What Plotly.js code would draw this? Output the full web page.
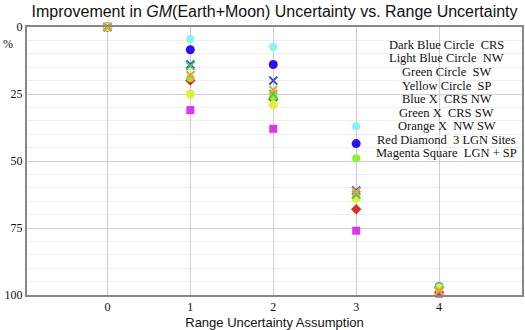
<!DOCTYPE html>
<html>
<head>
<meta charset="utf-8">
<script src="https://cdn.plot.ly/plotly-3.0.1.min.js"></script>
<style>
  html, body { margin: 0; padding: 0; background: white; }
  #graph { width: 525px; height: 330px; }
</style>
</head>
<body>
<div id="graph"></div>
<script>
// range uncertainty assumption (x axis)
const xVals = [0, 1, 2, 3, 4]

// improvement in uncertainty, %
const magentaSquare = [0, 31, 38, 76, 99.5]
const redDiamond = [0, 20, 27, 68, 99]
const darkBlueCircle = [0, 8.5, 14, 43.5, 97]
const lightBlueCircle = [0, 4.5, 7.5, 37, 96.5]
const greenCircle = [0, 19, 26, 49, 97]
const yellowCircle = [0, 25, 29, 64, 97.5]
const blueX = [0, 14, 20, 61, 98.5]
const greenX = [0, 14.5, 25, 62.5, 98.5]
const orangeX = [0, 18, 23.5, 61.5, 98.5]

const legendLines = [
    'Dark Blue Circle  CRS',
    'Light Blue Circle  NW',
    'Green Circle  SW',
    'Yellow Circle  SP',
    'Blue X  CRS NW',
    'Green X  CRS SW',
    'Orange X  NW SW',
    'Red Diamond  3 LGN Sites',
    'Magenta Square  LGN + SP'
]

const yTicks = [0, 25, 50, 75, 100]

function serie(y, symbol, color, size) {
    const m = { symbol: symbol, size: size, color: color }
    if (symbol === 'x-thin') m.line = { width: 2, color: color }
    return {
        x: xVals,
        y: y,
        type: 'scatter',
        mode: 'markers',
        marker: m,
        cliponaxis: false,
        hoverinfo: 'skip'
    }
}

const traces = [
    serie(magentaSquare, 'square', '#e033f2', 8),
    serie(redDiamond, 'diamond', '#dd2a22', 8),
    serie(lightBlueCircle, 'circle', '#80f7f2', 8),
    serie(darkBlueCircle, 'circle', '#2a10ff', 9),
    serie(greenCircle, 'circle', '#86f52a', 8),
    serie(yellowCircle, 'circle', '#d8f53a', 9),
    serie(blueX, 'x-thin', '#2a4fe0', 8),
    serie(greenX, 'x-thin', '#4fc84a', 8),
    serie(orangeX, 'x-thin', '#f0a03a', 8)
]

const serif = 'Liberation Serif, Times New Roman, serif'
const sans = 'Liberation Sans, Arial, sans-serif'

// texto da legenda, uma anotacao por linha
const notas = legendLines.map((t, i) => ({
    text: t,
    xref: 'paper',
    yref: 'paper',
    x: 0.848,
    y: 1 - (18 + i * 13.5) / 268,
    xanchor: 'center',
    yanchor: 'middle',
    showarrow: false,
    font: { family: serif, size: 12.5, color: '#111' }
}))

notas.push({
    text: '%',
    xref: 'paper',
    yref: 'paper',
    x: -0.038,
    y: 1 - 17 / 268,
    xanchor: 'center',
    yanchor: 'middle',
    showarrow: false,
    font: { family: serif, size: 12, color: '#111' }
})

const layout = {
    width: 525,
    height: 330,
    margin: { l: 27, r: 3, t: 27, b: 35 },
    paper_bgcolor: 'white',
    plot_bgcolor: 'white',
    showlegend: false,
    title: {
        text: 'Improvement in <i>GM</i>(Earth+Moon) Uncertainty vs. Range Uncertainty',
        font: { family: sans, size: 16, color: '#111' },
        x: 0.523,
        xanchor: 'center',
        y: 0.965,
        yanchor: 'middle'
    },
    xaxis: {
        range: [-0.97, 5],
        tickvals: xVals,
        ticktext: xVals.map(String),
        showgrid: true,
        gridcolor: '#cfcfcf',
        gridwidth: 1,
        zeroline: false,
        showline: true,
        linecolor: '#888',
        linewidth: 2,
        mirror: true,
        ticks: '',
        tickfont: { family: serif, size: 12, color: '#111' },
        title: {
            text: 'Range Uncertainty Assumption',
            font: { family: sans, size: 13, color: '#111' },
            standoff: 4
        }
    },
    yaxis: {
        range: [100, 0],
        tickvals: yTicks,
        ticktext: yTicks.map(String),
        showgrid: true,
        gridcolor: '#cfcfcf',
        gridwidth: 1,
        zeroline: false,
        showline: true,
        linecolor: '#888',
        linewidth: 2,
        mirror: true,
        ticks: '',
        tickfont: { family: serif, size: 12, color: '#111' },
        minor: { dtick: 5, showgrid: true, gridcolor: '#efefef', gridwidth: 1 }
    },
    annotations: notas
}

Plotly.newPlot('graph', traces, layout, { staticPlot: true })
</script>
</body>
</html>
